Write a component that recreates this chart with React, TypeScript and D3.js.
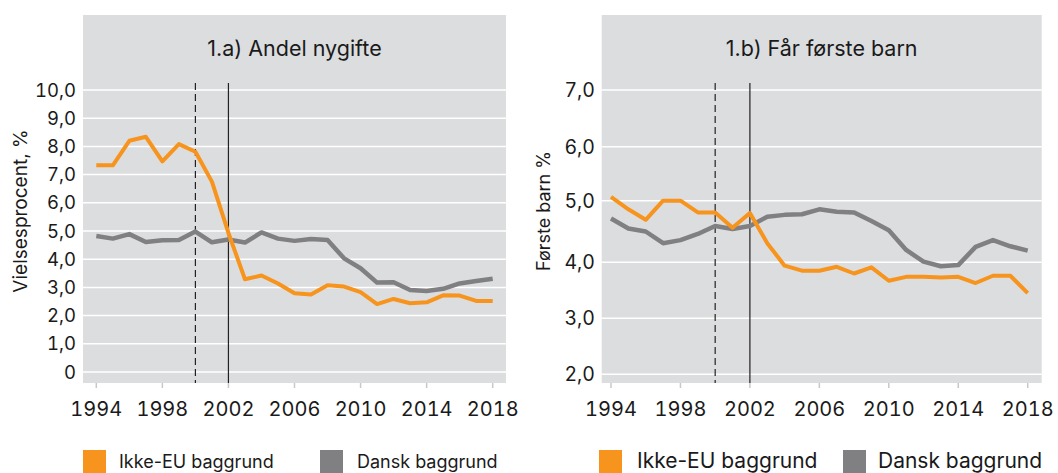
import * as d3 from 'd3';
import React from 'react';

const years = d3.range(1994, 2019);
const yearTicks = [1994, 1998, 2002, 2006, 2010, 2014, 2018];

// 1.a) Andel nygifte
const marriedNonEU = [7.33, 7.33, 8.2, 8.34, 7.47, 8.08, 7.81, 6.75, 4.93, 3.29, 3.42, 3.14, 2.79, 2.75, 3.08, 3.03, 2.83, 2.41, 2.59, 2.44, 2.47, 2.72, 2.71, 2.52, 2.52];
const marriedDanish = [4.82, 4.73, 4.89, 4.61, 4.67, 4.68, 4.98, 4.6, 4.7, 4.59, 4.95, 4.73, 4.65, 4.72, 4.68, 4.03, 3.68, 3.17, 3.18, 2.91, 2.87, 2.95, 3.14, 3.23, 3.31];
const marriedTicks = [0, 1, 2, 3, 4, 5, 6, 7, 8, 9, 10];

// 1.b) Får første barn
const childNonEU = [5.07, 4.86, 4.69, 5.0, 5.0, 4.81, 4.81, 4.56, 4.8, 4.31, 3.94, 3.85, 3.85, 3.92, 3.8, 3.91, 3.67, 3.74, 3.74, 3.73, 3.74, 3.63, 3.76, 3.76, 3.45];
const childDanish = [4.71, 4.55, 4.5, 4.31, 4.36, 4.46, 4.59, 4.54, 4.59, 4.74, 4.77, 4.78, 4.86, 4.82, 4.81, 4.67, 4.52, 4.2, 4.01, 3.93, 3.95, 4.25, 4.36, 4.26, 4.19];
const childTicks = [2, 3, 4, 5, 6, 7];

const ORANGE = '#f7941e';
const GREY = '#808083';
const BG = '#dcdddf';
const FONT = 'Inter, "Noto Sans", sans-serif';
const NUM = { fontVariantNumeric: 'tabular-nums' };

const fmt = (d: number) => (d === 0 ? '0' : d.toFixed(1).replace('.', ','));

type PanelProps = {
  title: string;
  ylabel: string;
  left: number;
  right: number;
  x0: number;
  x1: number;
  y: d3.ScaleLinear<number, number>;
  yTicks: number[];
  yLabelX: number;
  yLabelSize: number;
  tickRight: number;
  yTickSize: number;
  nonEU: number[];
  danish: number[];
  legendSize: number;
  legendX: number[];
};

const Panel = (p: PanelProps) => {
  const top = 15;
  const bottom = 383;
  const x = d3.scaleLinear().domain([1994, 2018]).range([p.x0, p.x1]);
  const line = (vals: number[]) =>
    d3.line<number>().x((_, i) => x(years[i])).y(d => p.y(d))(vals) || '';
  const cx = (p.left + p.right) / 2;
  const cy = 211;
  return (
    <g fontFamily={FONT} fill="#1a1a1a">
      <rect x={p.left} y={top} width={p.right - p.left} height={bottom - top} fill={BG} />
      {p.yTicks.map(t => (
        <g key={t}>
          <line x1={p.left} x2={p.right} y1={p.y(t)} y2={p.y(t)} stroke="#fff" strokeWidth={1.5} />
          <text x={p.tickRight} y={p.y(t)} dy="0.36em" textAnchor="end" fontSize={p.yTickSize} style={NUM}>{fmt(t)}</text>
        </g>
      ))}
      {yearTicks.map(t => (
        <g key={t}>
          <line x1={x(t)} x2={x(t)} y1={bottom} y2={bottom + 5} stroke="#c8c8c8" strokeWidth={1.5} />
          <text x={x(t)} y={416} textAnchor="middle" fontSize={20} style={NUM}>{t}</text>
        </g>
      ))}
      <text x={cx} y={56} textAnchor="middle" fontSize={21.5}>{p.title}</text>
      <text transform={`translate(${p.yLabelX},${cy}) rotate(-90)`} textAnchor="middle" dy="0.36em" fontSize={p.yLabelSize}>{p.ylabel}</text>
      <line x1={x(2000)} x2={x(2000)} y1={83} y2={bottom} stroke="#222" strokeWidth={1.2} strokeDasharray="7,4" />
      <line x1={x(2002)} x2={x(2002)} y1={83} y2={bottom} stroke="#222" strokeWidth={1.2} />
      <path d={line(p.danish)} fill="none" stroke={GREY} strokeWidth={4.5} strokeLinejoin="round" />
      <path d={line(p.nonEU)} fill="none" stroke={ORANGE} strokeWidth={4} strokeLinejoin="round" />
      <rect x={p.legendX[0]} y={450} width={23} height={23} fill={ORANGE} />
      <text x={p.legendX[1]} y={468} fontSize={p.legendSize}>Ikke-EU baggrund</text>
      <rect x={p.legendX[2]} y={450} width={23} height={23} fill={GREY} />
      <text x={p.legendX[3]} y={468} fontSize={p.legendSize}>Dansk baggrund</text>
    </g>
  );
};

export default function App() {
  const yLeft = d3.scaleLinear().domain([0, 10]).range([372, 90]);
  const yRight = d3.scaleLinear().domain(childTicks).range([374.3, 318.3, 262.3, 200.7, 146.7, 90]);
  return (
    <div style={{ position: 'absolute', left: 0, top: 0 }}>
      <svg width={1058} height={473} style={{ display: 'block', background: '#fff' }}>
        <Panel
          title="1.a)  Andel nygifte"
          ylabel="Vielsesprocent, %"
          left={83}
          right={506}
          x0={96.3}
          x1={492.7}
          y={yLeft}
          yTicks={marriedTicks}
          yLabelX={20}
          yLabelSize={19}
          tickRight={76}
          yTickSize={18.5}
          nonEU={marriedNonEU}
          danish={marriedDanish}
          legendSize={18}
          legendX={[83, 119, 320, 357]}
        />
        <Panel
          title="1.b)  Får første barn"
          ylabel="Første barn %"
          left={601.7}
          right={1041.7}
          x0={611}
          x1={1027.7}
          y={yRight}
          yTicks={childTicks}
          yLabelX={544}
          yLabelSize={18}
          tickRight={595}
          yTickSize={19.5}
          nonEU={childNonEU}
          danish={childDanish}
          legendSize={21}
          legendX={[599, 637, 843, 878]}
        />
      </svg>
    </div>
  );
}
